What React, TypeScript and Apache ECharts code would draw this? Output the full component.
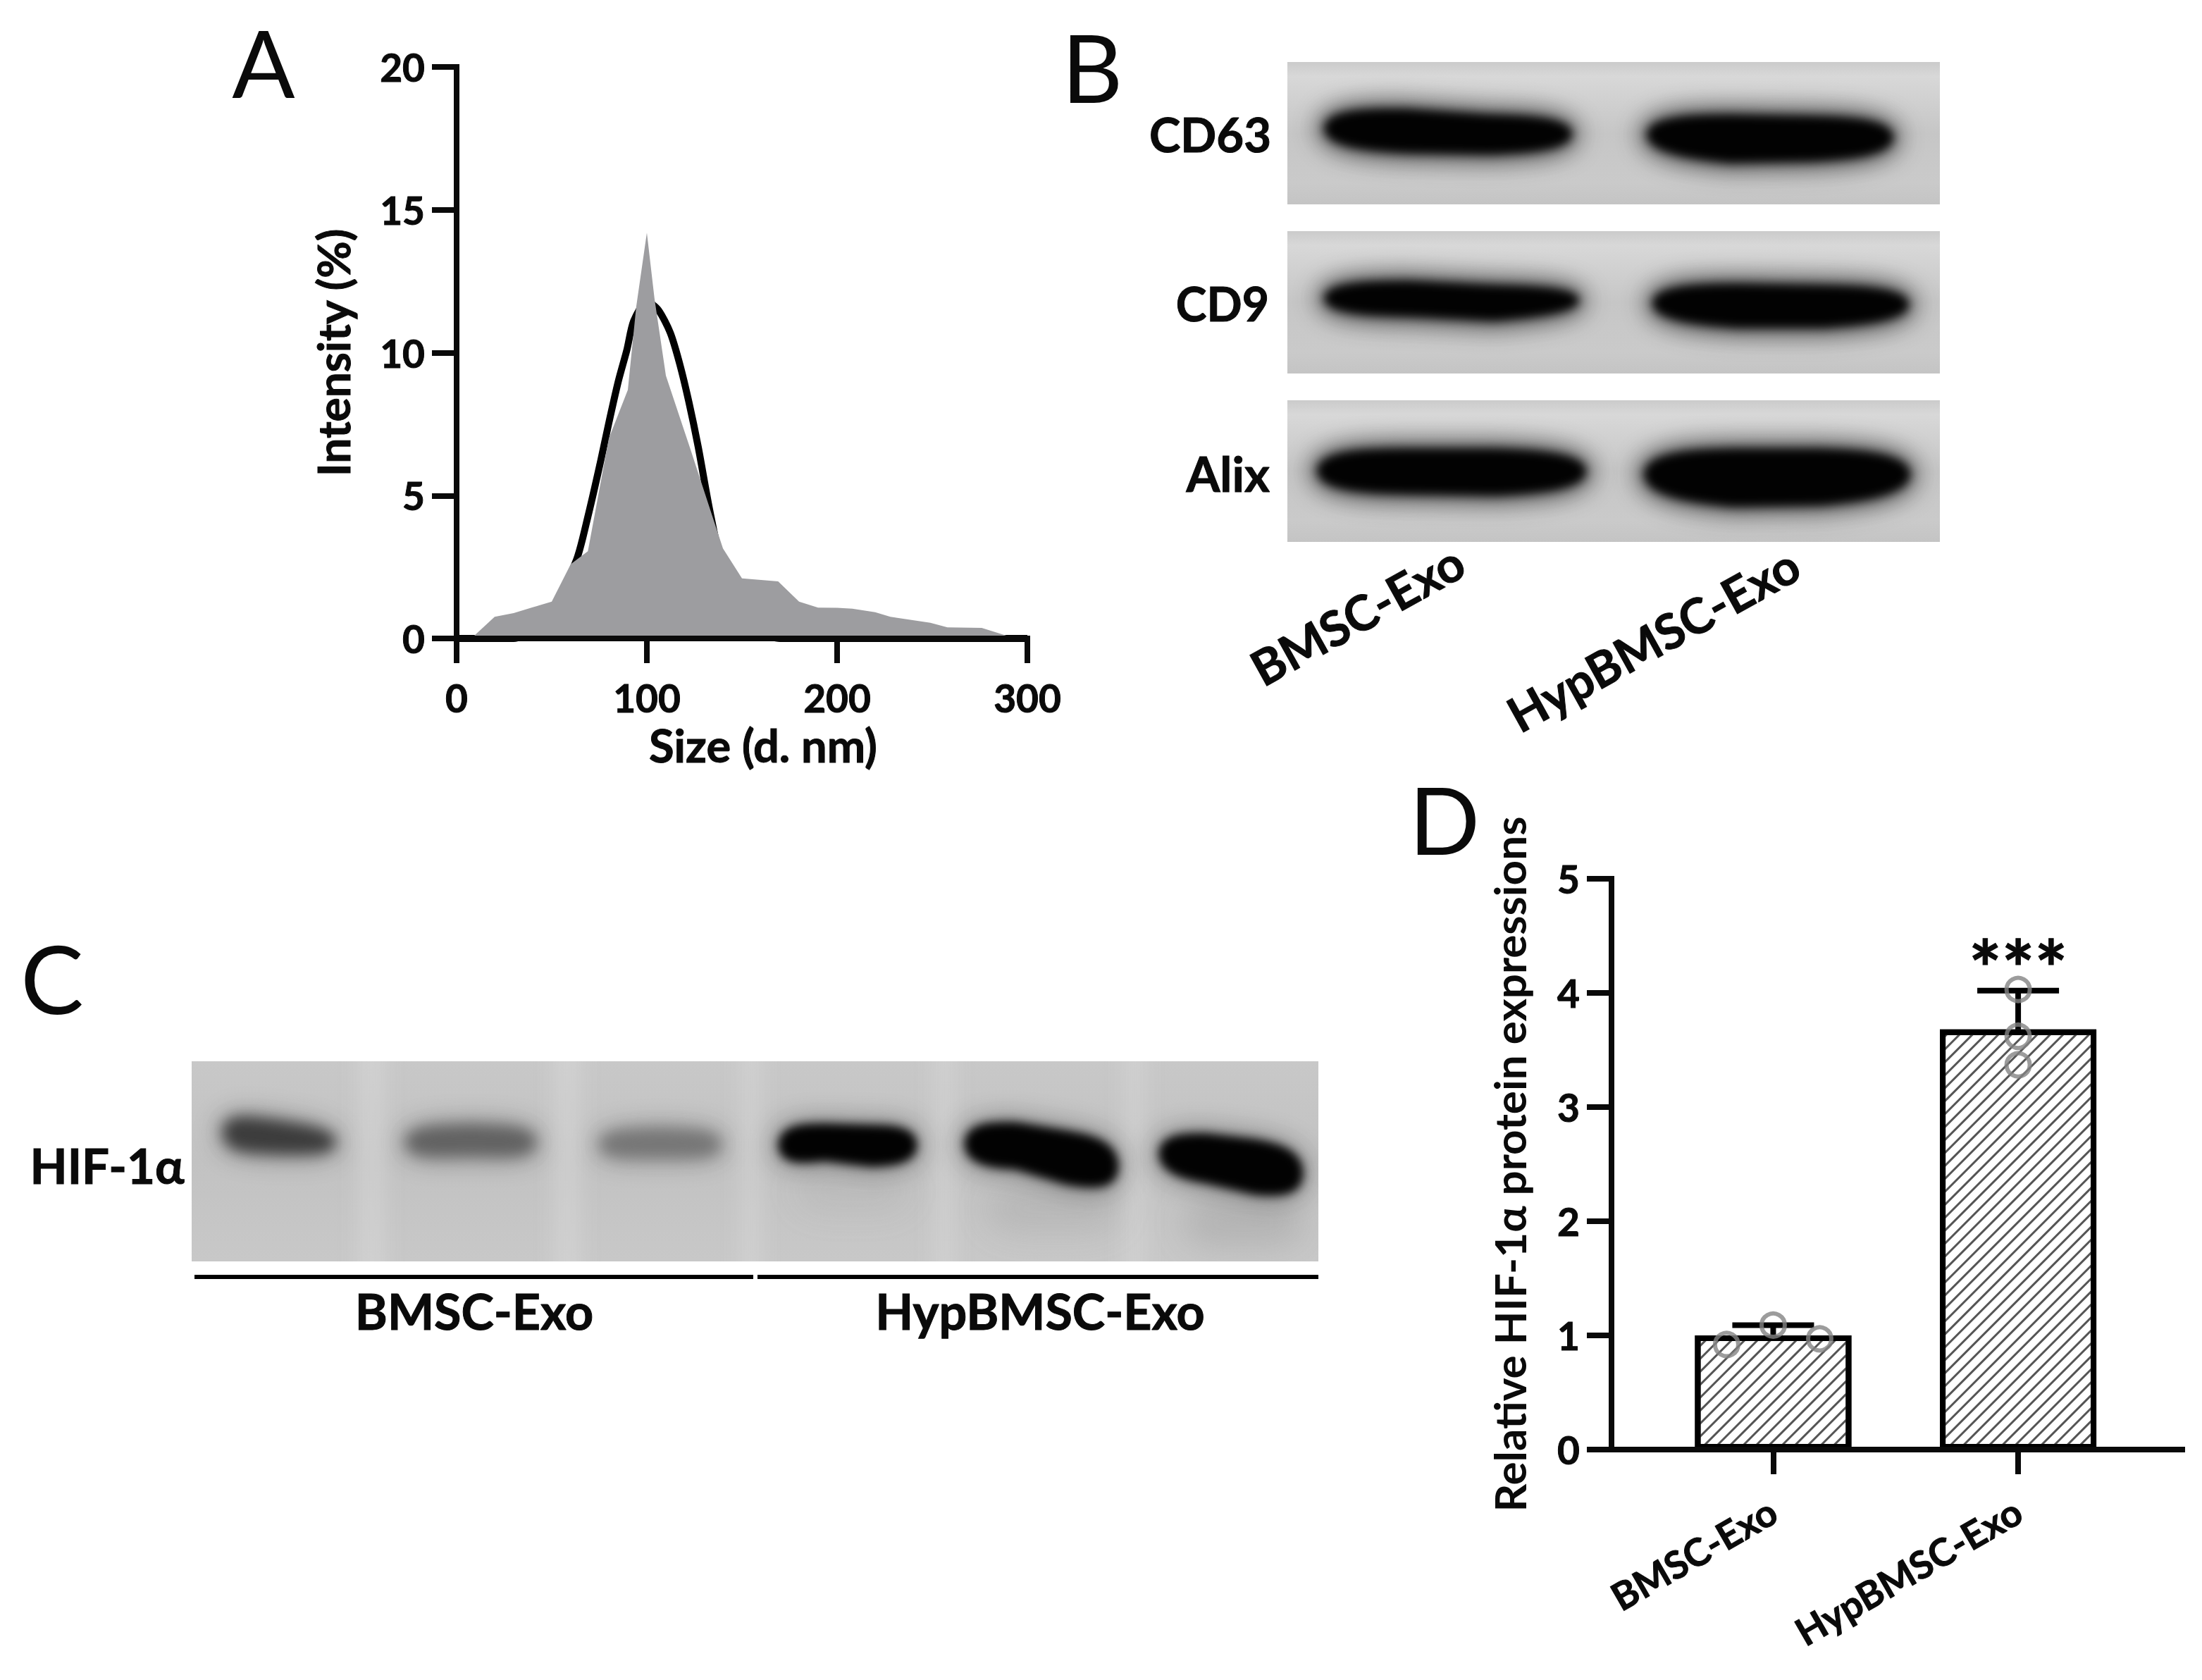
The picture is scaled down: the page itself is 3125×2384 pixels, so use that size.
import React, { useEffect, useRef } from "react";
import * as echarts from "echarts";

// Panel A: size distribution
const sizeArea: [number, number][] = [[8, 0], [9, 0.08], [20, 0.76], [30, 0.89], [40, 1.09], [50, 1.29], [60, 2.6], [69, 3.05], [80, 7], [90, 8.7], [94.4, 11.6], [100, 14.2], [104, 11.9], [110, 9.2], [120, 7.2], [123, 6.6], [133, 4.57], [140, 3.15], [150, 2.1], [169, 2.0], [180, 1.29], [190, 1.08], [200, 1.07], [208, 1.04], [220, 0.92], [228, 0.76], [249, 0.55], [258, 0.39], [276, 0.37], [289, 0.1], [295, 0]];
const sizeLine: [number, number][] = [[0, 0], [30, 0], [50, 1.0], [63, 2.75], [69, 4.26], [75.3, 6.08], [80.2, 7.6], [85, 9], [89.5, 10.1], [93, 11.1], [100, 11.8], [106, 11.5], [112.3, 10.7], [117.3, 9.6], [122, 8.3], [127, 6.7], [133, 4.5], [140, 2.4], [150, 0.8], [160, 0.2], [170, 0], [300, 0]];

// Panel D: HIF-1α expression
const groups = ["BMSC-Exo", "HypBMSC-Exo"];
const means = [1.0, 3.68];
const errors = [0.09, 0.34];
const pointsBmsc: [number, number][] = [[0.81, 0.92], [1, 1.09], [1.19, 0.97]];
const pointsHyp: [number, number][] = [[2, 4.03], [2, 3.62], [2, 3.37]];

const FONT = "Lato";
const INK = "#0a0a0a";

type Band = { x0: number; x1: number; tops: number[]; bots: number[]; color: string; halo: number; blur: number };

function interp(a: number[], t: number) {
  const p = t * (a.length - 1);
  const i = Math.min(Math.floor(p), a.length - 2);
  return a[i] + (a[i + 1] - a[i]) * (p - i);
}

function bandPath(ctx: CanvasRenderingContext2D, b: Band, ox: number, oy: number) {
  ctx.beginPath();
  const N = 64;
  const edge = (t: number, sign: number) => {
    const top = interp(b.tops, t);
    const bot = interp(b.bots, t);
    const taper = Math.sqrt(Math.max(0, 1 - Math.pow(Math.abs(2 * t - 1), 5)));
    return (top + bot) / 2 + (sign * (bot - top) * taper) / 2;
  };
  for (let i = 0; i <= N; i++) {
    const t = i / N;
    const x = b.x0 + (b.x1 - b.x0) * t - ox;
    const y = edge(t, -1) - oy;
    if (i === 0) ctx.moveTo(x, y); else ctx.lineTo(x, y);
  }
  for (let i = N; i >= 0; i--) {
    const t = i / N;
    ctx.lineTo(b.x0 + (b.x1 - b.x0) * t - ox, edge(t, 1) - oy);
  }
  ctx.closePath();
}

function makeBlot(x: number, y: number, w: number, h: number, stops: [number, string][], bands: Band[], lanes: [number, number][] = []) {
  const c = document.createElement("canvas");
  c.width = w; c.height = h;
  const ctx = c.getContext("2d")!;
  const g = ctx.createLinearGradient(0, 0, 0, h);
  stops.forEach(([p, col]) => g.addColorStop(p, col));
  ctx.fillStyle = g;
  ctx.fillRect(0, 0, w, h);
  lanes.forEach(([cx, lw]) => {
    ctx.filter = "blur(14px)";
    ctx.fillStyle = "rgba(222,222,222,0.4)";
    ctx.fillRect(cx - x - lw / 2, -40, lw, h + 80);
  });
  bands.forEach((b) => {
    ctx.lineJoin = "round";
    if (b.halo > 0) {
      ctx.filter = "blur(16px)";
      ctx.fillStyle = `rgba(40,40,40,${b.halo})`;
      ctx.strokeStyle = ctx.fillStyle;
      ctx.lineWidth = 22;
      bandPath(ctx, b, x, y);
      ctx.fill(); ctx.stroke();
    }
    ctx.filter = `blur(${b.blur}px)`;
    ctx.fillStyle = b.color;
    bandPath(ctx, b, x, y);
    ctx.fill();
  });
  ctx.filter = "none";
  return { type: "image", x, y, style: { image: c.toDataURL("image/png"), x: 0, y: 0, width: w, height: h }, silent: true };
}

const flat = (x0: number, x1: number, tops: number[], bots: number[], color = "#020202", halo = 0.55, blur = 7): Band => ({ x0, x1, tops, bots, color, halo, blur });

const txt = (text: string, x: number, y: number, size: number, extra: any = {}) => ({
  type: "text",
  x,
  y,
  rotation: extra.rotation ?? 0,
  style: {
    text,
    x: 0,
    y: 0,
    fill: extra.fill ?? INK,
    font: `${extra.weight ?? 700} ${size}px ${FONT}`,
    align: extra.align ?? "center",
    verticalAlign: "middle",
    stroke: extra.weight ? undefined : INK,
    lineWidth: extra.weight ? 0 : 1,
  },
});

export default function App() {
  const ref = useRef<HTMLDivElement>(null);
  useEffect(() => {
    document.body.style.margin = "0";
    const chart = echarts.init(ref.current!, undefined, { renderer: "svg" });
    const axisLine = { show: true, onZero: false, lineStyle: { color: INK, width: 8, cap: "square" } };
    const axisTick = { show: true, length: 35, lineStyle: { color: INK, width: 8 } };
    const lab = { color: INK, fontFamily: FONT, fontWeight: 700, fontSize: 55, textBorderColor: INK, textBorderWidth: 1 };
    const blotStops: [number, string][] = [[0, "#cbcbcb"], [0.1, "#d8d8d8"], [0.5, "#c6c6c6"], [0.85, "#cacaca"], [1, "#c4c4c4"]];

    const graphic = [
      makeBlot(1827, 88, 926, 202, blotStops, [
        flat(1878, 2232, [152, 154, 162, 164], [212, 218, 220, 216]),
        flat(2336, 2688, [162, 162, 164, 166], [220, 232, 230, 224]),
      ]),
      makeBlot(1827, 328, 926, 202, blotStops, [
        flat(1878, 2242, [398, 398, 404, 406], [448, 450, 456, 446]),
        flat(2344, 2710, [402, 402, 404, 406], [458, 466, 466, 458]),
      ]),
      makeBlot(1827, 568, 926, 201, blotStops, [
        flat(1868, 2252, [636, 636, 636, 640], [700, 702, 704, 698]),
        flat(2332, 2712, [638, 636, 636, 640], [708, 720, 718, 706]),
      ]),
      makeBlot(272, 1506, 1599, 284, [[0, "#c8c8c8"], [0.5, "#c2c2c2"], [1, "#c8c8c8"]], [
        flat(1400, 1590, [1680, 1680], [1750, 1750], "rgba(130,130,130,0.18)", 0, 22),
        flat(1680, 1850, [1700, 1700], [1770, 1770], "rgba(120,120,120,0.22)", 0, 22),
        flat(1130, 1290, [1660, 1660], [1720, 1720], "rgba(130,130,130,0.12)", 0, 22),
        flat(316, 476, [1580, 1590, 1604], [1634, 1638, 1638], "#3c3c3c", 0.2, 10),
        flat(576, 760, [1600, 1596, 1600], [1642, 1640, 1642], "#626262", 0.2, 10),
        flat(852, 1022, [1606, 1602, 1606], [1642, 1642, 1642], "#767676", 0.18, 10),
        flat(1104, 1302, [1594, 1594, 1596, 1596], [1656, 1648, 1656, 1654], "#020202", 0.25, 7),
        flat(1368, 1588, [1590, 1592, 1604, 1616], [1656, 1660, 1682, 1694], "#020202", 0.25, 7),
        flat(1644, 1850, [1606, 1608, 1616, 1628], [1668, 1680, 1696, 1702], "#020202", 0.25, 7),
      ], [[527, 40], [805, 40], [1065, 30], [1340, 30], [1610, 30]]),
      { type: "line", shape: { x1: 276, y1: 1812, x2: 1069, y2: 1812 }, style: { stroke: "#000", lineWidth: 6 } },
      { type: "line", shape: { x1: 1075, y1: 1812, x2: 1871, y2: 1812 }, style: { stroke: "#000", lineWidth: 6 } },
      txt("A", 374, 88, 132, { weight: 400 }),
      txt("B", 1550, 94, 134, { weight: 400 }),
      txt("C", 74, 1387, 134, { weight: 400 }),
      txt("D", 2050, 1162, 132, { weight: 400 }),
      txt("CD63", 1804, 190, 67, { align: "right" }),
      txt("CD9", 1801, 430, 66, { align: "right" }),
      txt("Alix", 1802, 671, 69, { align: "right" }),
      txt(groups[0], 1926, 872, 69, { rotation: (29 * Math.PI) / 180 }),
      txt(groups[1], 2346, 907, 69, { rotation: (29 * Math.PI) / 180 }),
      txt("HIF-1α", 152, 1653, 69),
      txt(groups[0], 673, 1860, 70),
      txt(groups[1], 1476, 1860, 70),
      txt("***", 2864, 1372, 110),
    ];

    chart.setOption({
      animation: false,
      backgroundColor: "#fff",
      graphic,
      grid: [
        { left: 648, top: 95, width: 810, height: 811 },
        { left: 2287, top: 1247, width: 810, height: 810 },
      ],
      xAxis: [
        {
          gridIndex: 0, type: "value", min: 0, max: 300, interval: 100, z: 6,
          splitLine: { show: false }, axisLine, axisTick,
          axisLabel: { ...lab, margin: 56 },
          name: "Size (d. nm)", nameLocation: "middle", nameGap: 118,
          nameTextStyle: { ...lab, fontSize: 65, padding: [0, 0, 0, 60] },
        },
        {
          gridIndex: 1, type: "value", min: 0.34, max: 2.67, z: 6,
          splitLine: { show: false }, axisLine,
          axisTick: { ...axisTick, customValues: [1, 2] },
          axisLabel: {
            ...lab, fontSize: 54, rotate: 30, margin: 82, customValues: [1, 2],
            formatter: (v: number) => groups[Math.round(v) - 1],
          },
        },
      ],
      yAxis: [
        {
          gridIndex: 0, type: "value", min: 0, max: 20, interval: 5, z: 6,
          splitLine: { show: false }, axisLine, axisTick,
          axisLabel: { ...lab, margin: 45 },
          name: "Intensity (%)", nameLocation: "middle", nameGap: 144,
          nameTextStyle: { ...lab, fontSize: 64 },
        },
        {
          gridIndex: 1, type: "value", min: 0, max: 5, interval: 1, z: 6,
          splitLine: { show: false }, axisLine, axisTick,
          axisLabel: { ...lab, margin: 45 },
          name: "Relative HIF-1α protein expressions", nameLocation: "middle", nameGap: 114,
          nameTextStyle: { ...lab, fontSize: 62, textBorderWidth: 0 },
        },
      ],
      series: [
        {
          type: "line", xAxisIndex: 0, yAxisIndex: 0, data: sizeLine, showSymbol: false, smooth: 0.25, clip: false, z: 2,
          lineStyle: { color: "#000", width: 10 },
        },
        {
          type: "line", xAxisIndex: 0, yAxisIndex: 0, data: sizeArea, showSymbol: false, z: 3,
          lineStyle: { width: 0 }, areaStyle: { color: "#9d9da0", opacity: 1 },
        },
        {
          type: "bar", xAxisIndex: 1, yAxisIndex: 1, barWidth: 222, z: 2,
          data: means.map((m, i) => [i + 1, m]),
          itemStyle: {
            color: "#fff", borderColor: "#000", borderWidth: 8,
            decal: { symbol: "rect", symbolSize: 1, dashArrayX: [1, 0], dashArrayY: [3, 10], rotation: -Math.PI / 4, color: "#555", backgroundColor: "#fff" },
          },
        },
        {
          type: "custom", xAxisIndex: 1, yAxisIndex: 1, z: 4, clip: false,
          data: means.map((m, i) => [i + 1, m, m + errors[i]]),
          renderItem: (_: any, api: any) => {
            const base = api.coord([api.value(0), api.value(1)]);
            const top = api.coord([api.value(0), api.value(2)]);
            const style = { stroke: "#000", lineWidth: 8 };
            return {
              type: "group",
              children: [
                { type: "line", shape: { x1: base[0], y1: base[1], x2: top[0], y2: top[1] }, style },
                { type: "line", shape: { x1: top[0] - 58, y1: top[1], x2: top[0] + 58, y2: top[1] }, style },
              ],
            };
          },
        },
        ...[pointsBmsc, pointsHyp].map((data) => ({
          type: "scatter", xAxisIndex: 1, yAxisIndex: 1, data, symbol: "circle", symbolSize: 33, z: 5,
          itemStyle: { color: "rgba(255,255,255,0)", borderColor: "#838383", borderWidth: 6 },
        })),
      ],
    });
    return () => chart.dispose();
  }, []);
  return <div ref={ref} style={{ position: "absolute", left: 0, top: 0, width: 3125, height: 2384 }} />;
}
